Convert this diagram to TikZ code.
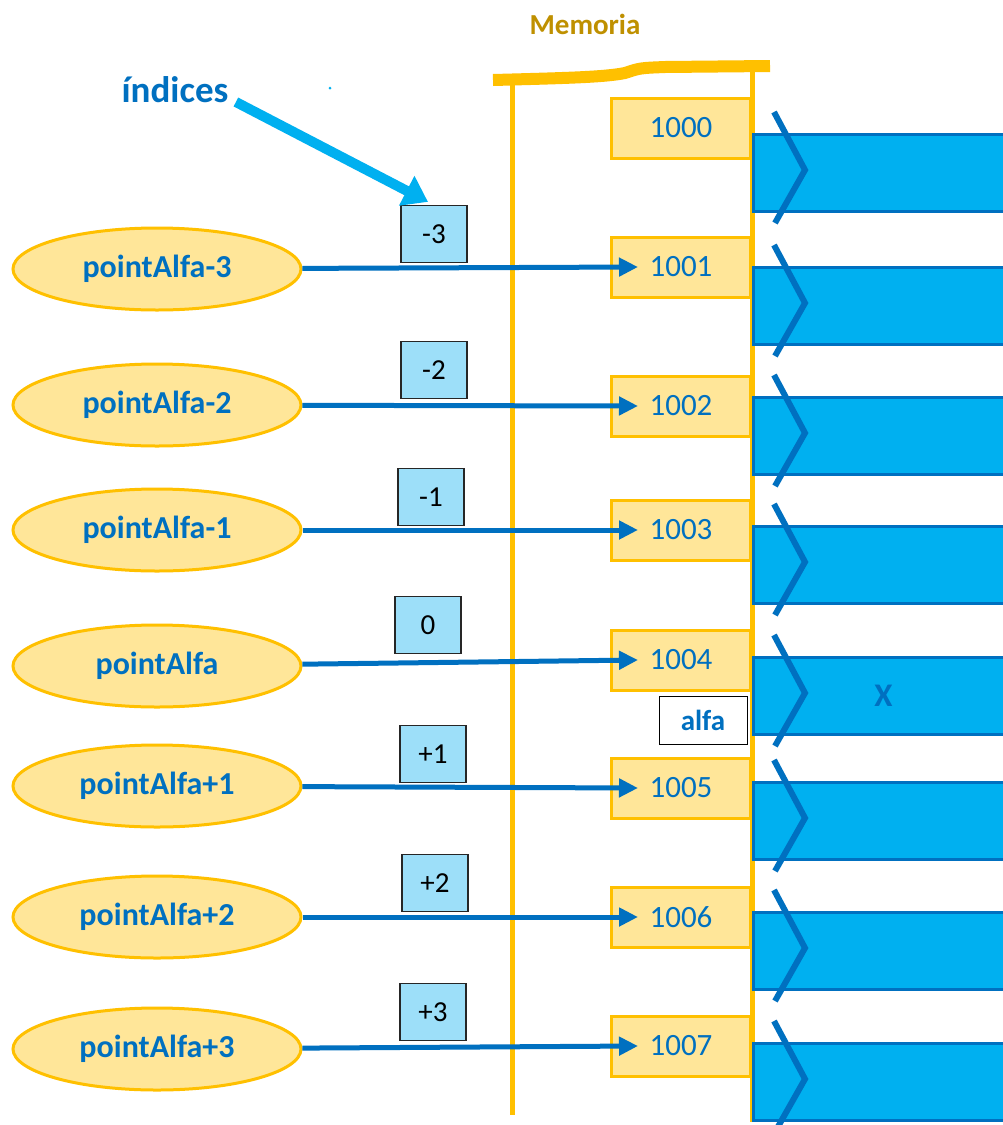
\documentclass[tikz,border=0pt]{standalone}
\usepackage{fontspec}
\setmainfont{Carlito}
\usetikzlibrary{arrows.meta,shapes.geometric}

\definecolor{azul}{HTML}{0070C0}
\definecolor{cian}{HTML}{00B0F0}
\definecolor{celeste}{HTML}{9DDFF9}
\definecolor{oro}{HTML}{FFC000}
\definecolor{crema}{HTML}{FFE699}
\definecolor{ocre}{HTML}{BF9000}

\tikzset{
	puntero/.style={ellipse, draw=oro, fill=crema, line width=3pt, minimum width=288pt, minimum height=82pt, inner sep=0pt, text=azul, font=\fontsize{32}{34}\selectfont\bfseries},
	celda/.style={draw=oro, fill=crema, line width=3pt, minimum width=139pt, minimum height=60pt, text=azul, font=\fontsize{31}{33}\selectfont},
	indice/.style={draw=black!85, fill=celeste, line width=1.3pt, minimum width=66pt, minimum height=57pt, font=\fontsize{29}{31}\selectfont},
	dato/.style={draw=azul, fill=cian, line width=3pt, minimum width=260pt, minimum height=77pt, anchor=west, text=azul, font=\fontsize{33}{35}\selectfont\bfseries},
	flecha/.style={draw=azul, line width=5pt, -{Triangle[length=19pt,width=18pt]}},
	chevron/.style={draw=azul, line width=6pt},
}

\begin{document}
\begin{tikzpicture}[x=1pt,y=-1pt]
	\path[fill=white,use as bounding box] (0,0) rectangle (1003,1125);

	% memoria
	\draw[oro, line width=5pt] (512,80) -- (512,1115);
	\draw[oro, line width=5pt] (752,66) -- (752,1122);
	\draw[oro, line width=12pt] (493,80) .. controls (570,78) and (605,77) .. (625,73)
		.. controls (640,68) .. (665,67) -- (770,66);
	\node[text=ocre, font=\fontsize{29}{31}\selectfont\bfseries] (titulo) at (585,24) {Memoria};

	\foreach \n/\y in {0/128,1/267,2/406,3/530,4/660,5/788,6/917,7/1046}
		\node[celda] (m\n) at (681,\y) {100\n};

	\foreach \n/\y/\t in {0/173/,1/306/,2/436/,3/565/,4/696/X,5/821/,6/951/,7/1082/}
	{
		\node[dato] (b\n) at (752,\y) {\t};
		\draw[chevron] ([shift={(22,-61)}]b\n.west) -- ([shift={(53,-3)}]b\n.west) -- ([shift={(23,50)}]b\n.west);
	}

	\node[draw=black, fill=white, line width=1pt, minimum width=88pt, minimum height=48pt, text=azul, font=\fontsize{29}{31}\selectfont\bfseries] (alfa) at (703,720) {alfa};

	% punteros
	\foreach \n/\t/\y in {1/pointAlfa-3/269,2/pointAlfa-2/405,3/pointAlfa-1/530,4/pointAlfa/666,5/pointAlfa+1/786,6/pointAlfa+2/917,7/pointAlfa+3/1049}
		\node[puntero] (p\n) at (157,\y) {\t};

	\foreach \n/\t/\x/\y in {1/-3/434/234,2/-2/434/370,3/-1/431/497,4/0/428/625,5/+1/433/754,6/+2/435/883,7/+3/433/1012}
		\node[indice] (i\n) at (\x,\y) {\t};

	\foreach \n in {1,...,7}
		\draw[flecha] (p\n) -- ([xshift=28pt]m\n.west);

	% indices
	\node[text=azul, font=\fontsize{37}{40}\selectfont\bfseries] (rotulo) at (175,90) {índices};
	\draw[cian, line width=10pt, -{Triangle[length=24pt,width=32pt]}] ([shift={(4,12)}]rotulo.east) -- ([shift={(-6,-3)}]i1.north);
	\fill[cian] (330,88) circle (1.5pt);
\end{tikzpicture}
\end{document}
